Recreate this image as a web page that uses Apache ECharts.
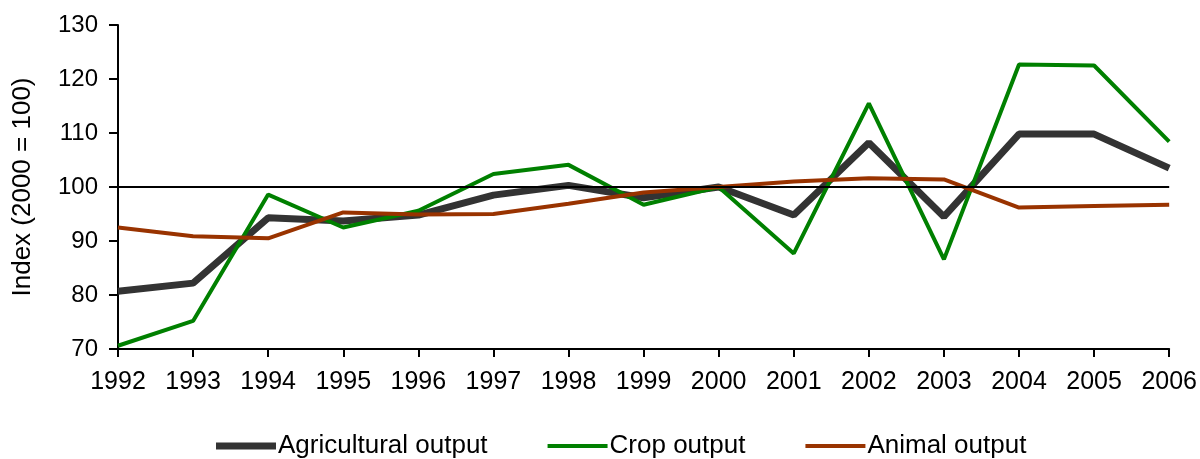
<!DOCTYPE html>
<html><head><meta charset="utf-8">
<script src="https://cdn.jsdelivr.net/npm/echarts@6/dist/echarts.min.js"></script>
<style>html,body{margin:0;padding:0;background:#fff}#c{width:1200px;height:459px}</style>
</head><body><div id="c"></div>
<script>
var years = ['1992','1993','1994','1995','1996','1997','1998','1999','2000','2001','2002','2003','2004','2005','2006'];
var agricultural = [80.7, 82.2, 94.3, 93.7, 94.8, 98.5, 100.3, 98.0, 100.0, 94.8, 108.2, 94.5, 109.8, 109.8, 103.5];
var crop = [70.6, 75.2, 98.6, 92.5, 95.6, 102.4, 104.1, 96.7, 100.0, 87.7, 115.5, 86.6, 122.7, 122.5, 108.4];
var animal = [92.5, 90.9, 90.5, 95.3, 94.9, 95.0, 96.9, 99.0, 100.0, 101.0, 101.6, 101.4, 96.2, 96.5, 96.7];
var yTicks = {min: 70, max: 130, interval: 10};

var font = 'Liberation Sans, Arial, sans-serif';
var chart = echarts.init(document.getElementById('c'));
chart.setOption({
  animation: false,
  backgroundColor: '#fff',
  grid: {left: 118, right: 30, top: 25, bottom: 110, containLabel: false},
  legend: {
    left: 211, top: 428, itemGap: 60, itemWidth: 60, itemHeight: 14, symbolKeepAspect: true,
    textStyle: {fontFamily: font, fontSize: 26, color: '#000', padding: [0,0,0,-3]},
    data: [
      {name: 'Agricultural output', icon: 'path://M0,0h60v7h-60z', itemStyle: {color: '#333333'}},
      {name: 'Crop output', icon: 'path://M0,0h60v4h-60z', itemStyle: {color: '#008000'}},
      {name: 'Animal output', icon: 'path://M0,0h60v4h-60z', itemStyle: {color: '#993300'}}
    ]
  },
  xAxis: {
    type: 'category', data: years, boundaryGap: false,
    axisLine: {lineStyle: {color: '#000', width: 2}},
    axisTick: {show: true, length: 8, lineStyle: {color: '#000', width: 2}},
    axisLabel: {fontFamily: font, fontSize: 25, color: '#000', margin: 21},
    splitLine: {show: false}
  },
  yAxis: {
    type: 'value', min: yTicks.min, max: yTicks.max, interval: yTicks.interval,
    name: 'Index (2000 = 100)', nameLocation: 'middle', nameGap: 82,
    nameTextStyle: {fontFamily: font, fontSize: 26, color: '#000'},
    axisLine: {show: true, lineStyle: {color: '#000', width: 2}},
    axisTick: {show: true, length: 9, lineStyle: {color: '#000', width: 2}},
    axisLabel: {fontFamily: font, fontSize: 24, color: '#000', margin: 20},
    splitLine: {show: false}
  },
  series: [
    {name: 'Agricultural output', type: 'line', data: agricultural, symbol: 'none',
     lineStyle: {color: '#333333', width: 7}, itemStyle: {color: '#333333'}, z: 2,
     markLine: {silent: true, symbol: 'none', label: {show: false},
       lineStyle: {color: '#000', width: 2, type: 'solid'}, data: [{yAxis: 100}]}},
    {name: 'Crop output', type: 'line', data: crop, symbol: 'none',
     lineStyle: {color: '#008000', width: 4}, itemStyle: {color: '#008000'}, z: 3},
    {name: 'Animal output', type: 'line', data: animal, symbol: 'none',
     lineStyle: {color: '#993300', width: 4}, itemStyle: {color: '#993300'}, z: 4}
  ]
});
</script></body></html>
